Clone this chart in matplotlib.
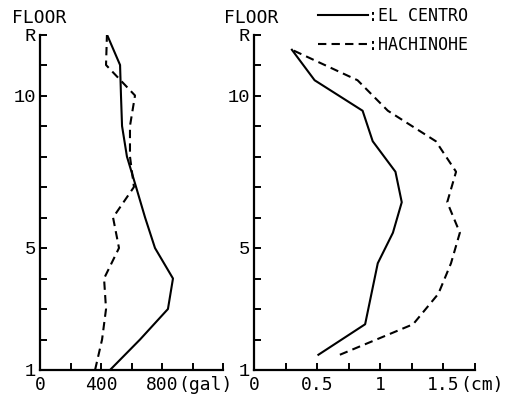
import matplotlib.pyplot as plt

# floor levels (R = 12)
floors = [1, 2, 3, 4, 5, 6, 7, 8, 9, 10, 11, 12]
floor_labels = ['1', '', '', '', '5', '', '', '', '', '10', '', 'R']

# max acceleration (gal)
elcentro_acc = [459, 656, 839, 872, 754, 689, 630, 570, 538, 531, 525, 439]
hachinohe_acc = [361, 407, 433, 420, 518, 479, 616, 590, 590, 623, 433, 439]

# story displacement (cm), plotted at mid-story
stories = [1.5, 2.5, 3.5, 4.5, 5.5, 6.5, 7.5, 8.5, 9.5, 10.5, 11.5]
elcentro_disp = [0.51, 0.88, 0.93, 0.98, 1.10, 1.17, 1.12, 0.94, 0.86, 0.48, 0.30]
hachinohe_disp = [0.68, 1.26, 1.46, 1.56, 1.63, 1.53, 1.60, 1.44, 1.06, 0.82, 0.30]

acc_ticks = [0, 200, 400, 600, 800, 1000, 1200]
acc_labels = ['0', '', '400', '', '800', '', '']
disp_ticks = [0, 0.25, 0.5, 0.75, 1, 1.25, 1.5, 1.75]
disp_labels = ['0', '', '0.5', '', '1', '', '1.5', '']

mono = 'DejaVu Sans Mono'
typew = 'Liberation Mono'
W, H = 516, 395

fig = plt.figure(figsize=(W / 100, H / 100), dpi=100)
ax1 = fig.add_axes([40 / W, 25 / H, 183 / W, 335.5 / H])
ax2 = fig.add_axes([254 / W, 25 / H, 221 / W, 335.5 / H])

dash = (0, (4, 2.5))
ax1.plot(elcentro_acc, floors, color='black', lw=1.5, label=':EL CENTRO')
ax1.plot(hachinohe_acc, floors, color='black', lw=1.5, ls=dash, label=':HACHINOHE')
ax2.plot(elcentro_disp, stories, color='black', lw=1.5, label=':EL CENTRO')
ax2.plot(hachinohe_disp, stories, color='black', lw=1.5, ls=dash, label=':HACHINOHE')

ax1.set_xlim(0, 1200)
ax1.set_xticks(acc_ticks)
ax1.set_xticklabels(acc_labels)
ax2.set_xlim(0, 1.75)
ax2.set_xticks(disp_ticks)
ax2.set_xticklabels(disp_labels)

for ax in (ax1, ax2):
    ax.spines[['top', 'right']].set_visible(False)
    ax.spines[['left', 'bottom']].set_linewidth(1.6)
    ax.set_ylim(1, 12)
    ax.set_yticks(floors)
    ax.set_yticklabels(floor_labels, fontfamily=typew, fontsize=13.5)
    ax.tick_params(direction='in', length=5, width=1.4)
    ax.tick_params(axis='x', pad=4)
    ax.tick_params(axis='y', pad=3)
    for t in ax.get_xticklabels():
        t.set_fontfamily(mono)
        t.set_fontsize(13)
    ax.patch.set_visible(False)

ax1.annotate('(gal)', xy=(800, 0), xycoords=('data', 'axes fraction'),
             xytext=(12, -4.5), textcoords='offset points',
             ha='left', va='top', fontfamily=mono, fontsize=13)
ax2.annotate('(cm)', xy=(1.5, 0), xycoords=('data', 'axes fraction'),
             xytext=(12, -4.5), textcoords='offset points',
             ha='left', va='top', fontfamily=mono, fontsize=13)

fig.text(12 / W, 1 - 18 / H, 'FLOOR', va='center', ha='left', fontfamily=mono, fontsize=13)
fig.text(224 / W, 1 - 18 / H, 'FLOOR', va='center', ha='left', fontfamily=mono, fontsize=13)

ax2.legend(loc='upper left', bbox_to_anchor=(318 / W, 1 - 7 / H),
           bbox_transform=fig.transFigure, frameon=False, handlelength=3.0,
           handletextpad=0.0, labelspacing=0.65, borderpad=0, borderaxespad=0,
           prop={'family': mono, 'size': 12})

fig.savefig('out.png', dpi=100)
